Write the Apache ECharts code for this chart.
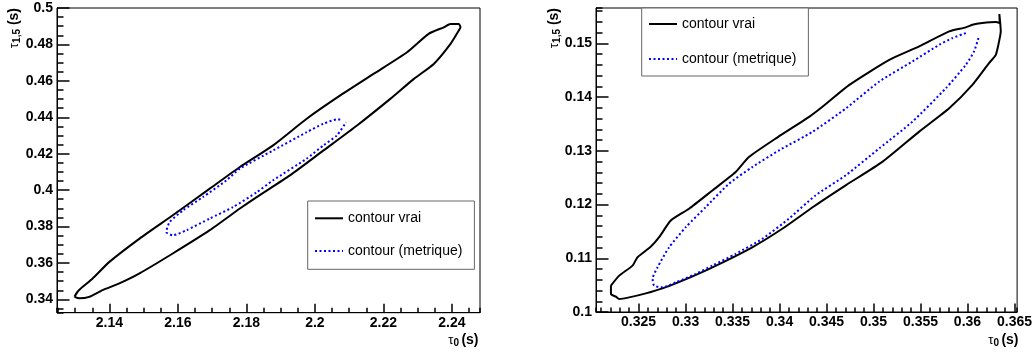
<!DOCTYPE html>
<html><head><meta charset="utf-8">
<script src="https://cdn.jsdelivr.net/npm/echarts@6/dist/echarts.min.js"></script>
<style>html,body{margin:0;padding:0;background:#fff}#c{width:1035px;height:354px}</style>
</head><body><div id="c"></div>
<script>
// ---- data ----
const seriesNames = ['contour vrai', 'contour (metrique)'];

const leftTrueX = [2.1298,2.1307,2.1322,2.1351,2.14,2.1488,2.1585,2.1693,2.1781,2.1878,2.1976,2.2074,2.2171,2.2269,2.2332,2.2376,2.2396,2.2420,2.2425,2.2420,2.2396,2.2347,2.2289,2.2220,2.2123,2.2025,2.1927,2.1830,2.1781,2.1693,2.1585,2.1488,2.1429,2.1380,2.1341,2.1312,2.1298];
const leftTrueY = [0.3414,0.3442,0.3469,0.3515,0.3606,0.3734,0.3862,0.4008,0.4127,0.4246,0.4392,0.4520,0.4638,0.4757,0.4858,0.4894,0.4912,0.4912,0.4894,0.4876,0.4803,0.4693,0.4611,0.4501,0.4355,0.4218,0.4081,0.3962,0.3899,0.3780,0.3652,0.3543,0.3488,0.3451,0.3414,0.3406,0.3414];

const leftMetX = [2.2074,2.2064,2.2025,2.1976,2.1878,2.1781,2.1742,2.1673,2.1615,2.1576,2.1566,2.1585,2.1625,2.1693,2.1761,2.1830,2.1878,2.1976,2.2025,2.2064,2.2091];
const leftMetY = [0.4388,0.4388,0.4365,0.4318,0.4218,0.4118,0.4054,0.3962,0.3889,0.3825,0.3770,0.3752,0.3780,0.3844,0.3907,0.3988,0.4054,0.4173,0.4246,0.4300,0.4373];

const rightTrueX = [0.32206,0.32294,0.32436,0.32489,0.32631,0.32719,0.32843,0.33037,0.33286,0.33533,0.33674,0.33979,0.34319,0.3446,0.34743,0.35168,0.35486,0.35805,0.35982,0.36052,0.36158,0.36301,0.36343,0.36339,0.36354,0.36336,0.36301,0.36229,0.36052,0.35805,0.35486,0.35097,0.34708,0.34372,0.34029,0.3371,0.33286,0.32967,0.32755,0.32577,0.324,0.32294,0.32259,0.32206,0.32206];
const rightTrueY = [0.10491,0.10677,0.10864,0.11019,0.11218,0.11392,0.11703,0.11922,0.12263,0.12605,0.12884,0.13252,0.13638,0.13825,0.14228,0.14694,0.14944,0.15224,0.15299,0.15347,0.15379,0.15398,0.15379,0.15547,0.15224,0.15037,0.14787,0.14633,0.14228,0.13793,0.13358,0.12799,0.12362,0.11974,0.11549,0.11205,0.10832,0.10584,0.10440,0.10347,0.10272,0.10243,0.10285,0.10336,0.10491];

const rightMetX = [0.35982,0.3584,0.35699,0.35415,0.35062,0.34708,0.34354,0.34,0.3371,0.33462,0.33214,0.33002,0.32825,0.32702,0.32649,0.32666,0.32755,0.32896,0.33108,0.33286,0.33533,0.33816,0.34099,0.34382,0.34708,0.35062,0.35415,0.3577,0.35982,0.3607,0.36116];
const rightMetY = [0.15192,0.15099,0.14974,0.14664,0.14291,0.13793,0.13358,0.13015,0.12698,0.12388,0.11952,0.11578,0.11205,0.10832,0.10616,0.10491,0.10459,0.10552,0.10709,0.10864,0.11082,0.11362,0.11735,0.1217,0.12549,0.13047,0.13545,0.14166,0.14601,0.14851,0.15099];

// axis ranges and tick spacing (major labelled ticks / minor ticks)
const leftXRange = [2.1247, 2.2482];
const leftYRange = [0.3327, 0.5];
const rightXRange = [0.32047, 0.36528];
const rightYRange = [0.1, 0.15659];
const leftXStep = [0.02, 0.005];
const leftYStep = [0.02, 0.005];
const rightXStep = [0.005, 0.001];
const rightYStep = [0.01, 0.002];

// ---- helpers ----
const FF = '"Liberation Sans", Arial, Helvetica, sans-serif';
const TICK = { color: '#000', width: 1.5 };
function zip(xs, ys) { return xs.map((x, i) => [x, ys[i]]); }
// splitNumber that makes ECharts' own nice-interval come out at the wanted step
function splitFor(range, step) { return Math.round((range[1] - range[0]) / step); }

function majorAxis(gi, pos, range, step, len, margin, showMin, showMax) {
  return {
    type: 'value', gridIndex: gi, position: pos, min: range[0], max: range[1],
    splitNumber: splitFor(range, step),
    splitLine: { show: false },
    axisLine: { show: true, lineStyle: { color: '#000', width: 1 } },
    axisTick: { show: true, inside: true, length: len, lineStyle: TICK },
    axisLabel: { show: true, margin: margin, fontSize: 14, fontWeight: 'bold', color: '#000', fontFamily: FF,
                 showMinLabel: showMin, showMaxLabel: showMax },
    minorTick: { show: false }
  };
}
function minorAxis(gi, pos, range, step, len) {
  return {
    type: 'value', gridIndex: gi, position: pos, offset: 0, min: range[0], max: range[1],
    splitNumber: splitFor(range, step),
    splitLine: { show: false },
    axisLine: { show: false },
    axisTick: { show: true, inside: true, length: len, lineStyle: TICK },
    axisLabel: { show: false },
    minorTick: { show: false }
  };
}
function yTitle(x, y) {
  return {
    type: 'group', x: x, y: y, rotation: Math.PI / 2,
    children: [
      { type: 'text', x: 0, y: 0, style: { text: '(s)', font: 'bold 14px ' + FF, fill: '#000', align: 'right', verticalAlign: 'middle' } },
      { type: 'text', x: -21, y: 3, style: { text: '1,5', font: 'bold 10px ' + FF, fill: '#000', align: 'right', verticalAlign: 'middle' } },
      { type: 'text', x: -35, y: 0, style: { text: 'τ', font: '13px ' + FF, fill: '#000', align: 'right', verticalAlign: 'middle' } }
    ]
  };
}
function xTitle(x, y) {
  return {
    type: 'group', x: x, y: y,
    children: [
      { type: 'text', x: 0, y: 0, style: { text: '(s)', font: 'bold 14px ' + FF, fill: '#000', align: 'right', verticalAlign: 'middle' } },
      { type: 'text', x: -19.5, y: 3.5, style: { text: '0', font: 'bold 10px ' + FF, fill: '#000', align: 'right', verticalAlign: 'middle' } },
      { type: 'text', x: -25, y: 0, style: { text: 'τ', font: '13px ' + FF, fill: '#000', align: 'right', verticalAlign: 'middle' } }
    ]
  };
}
function legendBox(left, top, gap, padding) {
  return {
    left: left, top: top, orient: 'vertical', data: seriesNames, selectedMode: false,
    itemWidth: 28, itemHeight: 14, itemGap: gap, padding: padding,
    borderColor: '#666', borderWidth: 1, borderRadius: 0, backgroundColor: '#fff',
    itemStyle: { opacity: 0 },
    textStyle: { fontSize: 14, fontFamily: FF, color: '#000' }
  };
}

const solid = { color: '#000', width: 2, type: 'solid' };
const dotted = { color: '#0000ff', width: 2, type: [2, 2.5] };
function line(name, xi, yi, data, style) {
  return {
    type: 'line', name: name, xAxisIndex: xi, yAxisIndex: yi, data: data,
    symbol: 'none', showSymbol: false, smooth: 0.2,
    lineStyle: style, itemStyle: { color: style.color }
  };
}

const chart = echarts.init(document.getElementById('c'), null, { renderer: 'canvas' });
chart.setOption({
  animation: false,
  grid: [
    { left: 57, top: 8, width: 423, height: 304.7, show: true, borderColor: '#000', borderWidth: 1 },
    { left: 596, top: 8, width: 423.3, height: 304, show: true, borderColor: '#000', borderWidth: 1 }
  ],
  xAxis: [
    majorAxis(0, 'bottom', leftXRange, leftXStep[0], 9, 3, false, false),
    majorAxis(1, 'bottom', rightXRange, rightXStep[0], 8.5, 3, false, false),
    minorAxis(0, 'bottom', leftXRange, leftXStep[1], 5),
    minorAxis(1, 'bottom', rightXRange, rightXStep[1], 4.5)
  ],
  yAxis: [
    majorAxis(0, 'left', leftYRange, leftYStep[0], 12.5, 4, false, true),
    majorAxis(1, 'left', rightYRange, rightYStep[0], 12.5, 4, true, false),
    minorAxis(0, 'left', leftYRange, leftYStep[1], 6.5),
    minorAxis(1, 'left', rightYRange, rightYStep[1], 6.5)
  ],
  legend: [
    legendBox(307.7, 201, 18.7, [10.3, 12, 11.3, 6.3]),
    legendBox(641.7, 8, 21, [9, 12, 10, 6.3])
  ],
  series: [
    line(seriesNames[0], 0, 0, zip(leftTrueX, leftTrueY), solid),
    line(seriesNames[1], 0, 0, zip(leftMetX, leftMetY), dotted),
    line(seriesNames[0], 1, 1, zip(rightTrueX, rightTrueY), solid),
    line(seriesNames[1], 1, 1, zip(rightMetX, rightMetY), dotted)
  ],
  graphic: [yTitle(14.5, 8), yTitle(554, 8), xTitle(478.5, 340), xTitle(1018.5, 340)]
});
</script>
</body></html>
